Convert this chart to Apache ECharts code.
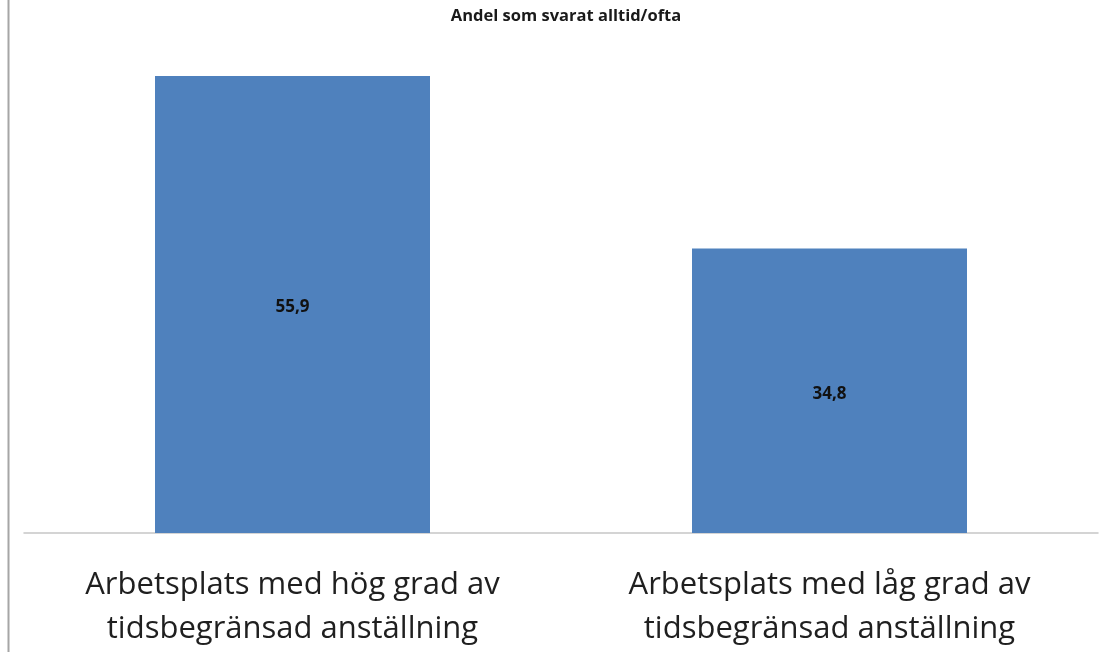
<!DOCTYPE html>
<html>
<head>
<meta charset="utf-8">
<script src="https://cdn.jsdelivr.net/npm/echarts@6/dist/echarts.min.js"></script>
<style>html,body{margin:0;padding:0;background:#fff;}#c{width:1102px;height:652px;}</style>
</head>
<body>
<div id="c"></div>
<script>
const titleText = 'Andel som svarat alltid/ofta';
const categories = ['Arbetsplats med hög grad av\ntidsbegränsad anställning', 'Arbetsplats med låg grad av\ntidsbegränsad anställning'];
const values = [55.9, 34.8];

const chart = echarts.init(document.getElementById('c'));
chart.setOption({
  animation: false,
  backgroundColor: '#ffffff',
  title: {
    text: titleText, left: 561, top: 3, textAlign: 'center',
    textStyle: { fontFamily: 'Open Sans', fontSize: 16.5, fontWeight: 'bold', color: '#1a1a1a' }
  },
  graphic: [{
    type: 'line', shape: { x1: 8.5, y1: 0, x2: 8.5, y2: 652 },
    style: { stroke: '#a6a6a6', lineWidth: 2 }
  }],
  grid: { left: 24, width: 1074, top: 42.5, bottom: 119, containLabel: false },
  xAxis: {
    type: 'category', data: categories,
    axisLine: { lineStyle: { color: '#c6c6c6', width: 1.5 } },
    axisTick: { show: false },
    axisLabel: { interval: 0, margin: 30, fontFamily: 'Open Sans', fontSize: 31, lineHeight: 44, color: '#1f1f1f' }
  },
  yAxis: { type: 'value', min: 0, max: 60, show: false, splitLine: { show: false } },
  series: [{
    type: 'bar', data: values, barWidth: 275,
    itemStyle: { color: '#4f81bd' },
    label: {
      show: true, position: 'inside', offset: [0, 3],
      formatter: p => p.value.toFixed(1).replace('.', ','),
      fontFamily: 'Open Sans', fontSize: 17, fontWeight: 'bold', color: '#111'
    }
  }]
});
</script>
</body>
</html>
